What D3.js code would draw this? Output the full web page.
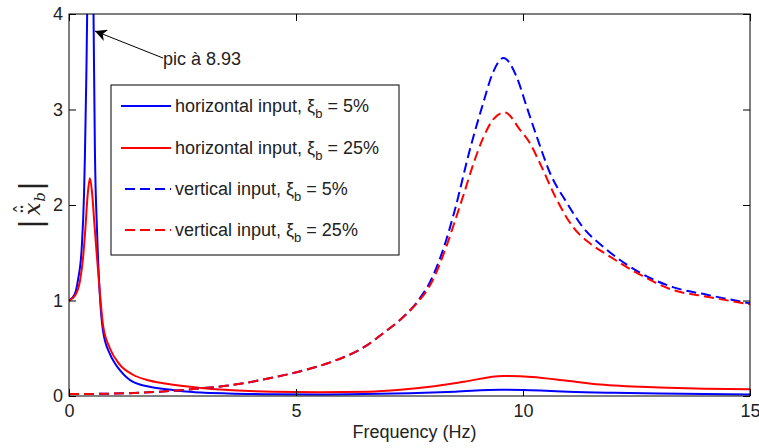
<!DOCTYPE html>
<html><head><meta charset="utf-8">
<script src="https://cdn.jsdelivr.net/npm/d3@7"></script>
<style>
body{margin:0;background:#fff;}
text{font-family:"Liberation Sans",Arial,Helvetica,sans-serif;}
</style></head>
<body><svg id="chart" width="759" height="448"></svg>
<script>
// ---- data ----
const xTicks = [0, 5, 10, 15];
const yTicks = [0, 1, 2, 3, 4];

const hBlueF = [0,0.13,0.2,0.28,0.33,0.35,0.38,0.40,0.43,0.46,0.49,0.52,0.54,0.57,0.62,0.68,0.75,0.9,1.0,1.12,1.28,1.4,1.56,1.8,2.15,2.5,2.9,3.5,4.5,5.5,6.5,7.5,8.5,9.5,10,10.5,11,12,13,14,15];
const hBlueV = [1.0,1.07,1.22,1.55,2.1,2.5,3.3,4.0,6.5,8.93,7.0,4.8,4.0,2.6,1.7,1.05,0.68,0.44,0.35,0.27,0.19,0.15,0.12,0.095,0.07,0.05,0.037,0.027,0.018,0.015,0.02,0.03,0.045,0.065,0.063,0.055,0.045,0.033,0.025,0.02,0.015];

const hRedF = [0,0.13,0.24,0.31,0.36,0.41,0.46,0.51,0.56,0.6,0.68,0.75,0.9,1.1,1.4,1.7,2.15,2.9,3.6,4.5,5.5,6.6,7.3,8.0,8.7,9.56,10.2,10.97,11.7,13,14,15];
const hRedV = [1.0,1.05,1.2,1.45,1.75,2.1,2.28,2.12,1.8,1.55,1.08,0.74,0.5,0.34,0.225,0.17,0.128,0.085,0.06,0.045,0.04,0.045,0.065,0.1,0.15,0.21,0.2,0.16,0.12,0.09,0.077,0.07];

const vBlueF = [0,1,2,2.9,3.6,4.36,5.1,5.8,6.56,6.9,7.3,7.66,8.0,8.3,8.5,8.83,9.1,9.35,9.57,9.86,10.08,10.3,10.6,10.97,11.3,11.85,12.58,13.3,14.05,15];
const vBlueV = [0.02,0.025,0.045,0.08,0.115,0.18,0.26,0.36,0.53,0.65,0.8,0.98,1.24,1.62,1.95,2.58,3.03,3.4,3.54,3.34,3.03,2.72,2.33,2.02,1.78,1.53,1.29,1.14,1.06,0.97];

const vRedF = [0,1,2,2.9,3.6,4.36,5.1,5.8,6.56,6.9,7.3,7.66,8.0,8.3,8.5,8.7,8.9,9.12,9.35,9.6,9.93,10.15,10.37,10.75,11.1,11.47,11.85,12.58,13.3,14.05,15];
const vRedV = [0.02,0.025,0.045,0.08,0.115,0.18,0.26,0.36,0.53,0.65,0.8,0.97,1.2,1.55,1.83,2.12,2.42,2.7,2.9,2.97,2.79,2.65,2.44,2.05,1.77,1.6,1.48,1.27,1.11,1.04,0.96];

const seriesNames = ["horizontal input, ξ", "horizontal input, ξ", "vertical input, ξ", "vertical input, ξ"];
const seriesPct = ["5%", "25%", "5%", "25%"];
const seriesColors = ["#0000ff", "#ff0000", "#0000ff", "#ff0000"];
const seriesDashed = [false, false, true, true];
const annotationText = "pic à 8.93";
const xLabel = "Frequency (Hz)";

// ---- layout ----
const svg = d3.select("#chart");
const L = 69, R = 750, T = 14, B = 396;
const FS = 18;
const x = d3.scaleLinear().domain([0, 15]).range([L, R]);
const y = d3.scaleLinear().domain([0, 4]).range([B, T]);

const defs = svg.append("defs");
defs.append("clipPath").attr("id", "clip")
  .append("rect").attr("x", L).attr("y", T).attr("width", R - L).attr("height", B - T);

const series = [
  {f: hBlueF, v: hBlueV}, {f: hRedF, v: hRedV},
  {f: vBlueF, v: vBlueV}, {f: vRedF, v: vRedV}
];

const line = d3.line().x(d => x(d[0])).y(d => y(d[1])).curve(d3.curveMonotoneX);
const plot = svg.append("g").attr("clip-path", "url(#clip)");
series.forEach((s, i) => {
  plot.append("path")
    .attr("d", line(s.f.map((f, k) => [f, s.v[k]])))
    .attr("fill", "none")
    .attr("stroke", seriesColors[i])
    .attr("stroke-width", 2)
    .attr("stroke-dasharray", seriesDashed[i] ? "10,5" : null);
});

// ---- axes (MATLAB box style, ticks inside) ----
const tickStyle = g => {
  g.select(".domain").remove();
  g.selectAll("line").attr("stroke", "#000");
  g.selectAll("text").attr("font-size", FS).attr("fill", "#222")
    .style("font-family", "'Liberation Sans',Arial,sans-serif");
};
svg.append("g").attr("transform", `translate(0,${B})`)
  .call(d3.axisBottom(x).tickValues(xTicks).tickSize(-7).tickPadding(8).tickFormat(d3.format("d")))
  .call(tickStyle);
svg.append("g").attr("transform", `translate(0,${T})`)
  .call(d3.axisTop(x).tickValues(xTicks).tickSize(-7).tickFormat(""))
  .call(tickStyle);
svg.append("g").attr("transform", `translate(${L},0)`)
  .call(d3.axisLeft(y).tickValues(yTicks).tickSize(-7).tickPadding(6).tickFormat(d3.format("d")))
  .call(tickStyle);
svg.append("g").attr("transform", `translate(${R},0)`)
  .call(d3.axisRight(y).tickValues(yTicks).tickSize(-7).tickFormat(""))
  .call(tickStyle);
svg.append("rect").attr("x", L).attr("y", T).attr("width", R - L).attr("height", B - T)
  .attr("fill", "none").attr("stroke", "#000").attr("stroke-width", 1);

// x label
svg.append("text").attr("x", (L + R) / 2 + 5).attr("y", 438).attr("text-anchor", "middle")
  .attr("font-size", FS).attr("fill", "#222").text(xLabel);

// y label |x̂̈_b| (rotated)
const serif = "'DejaVu Serif',serif";
const yl = svg.append("g").attr("transform", "translate(33,205) rotate(-90)").attr("fill", "#222");
yl.append("text").attr("x", -19).attr("y", 7.5).attr("text-anchor", "middle")
  .attr("font-size", 31).text("|");
yl.append("text").attr("x", 19).attr("y", 7.5).attr("text-anchor", "middle")
  .attr("font-size", 31).text("|");
yl.append("text").attr("x", -4).attr("y", 7).attr("text-anchor", "middle")
  .attr("font-size", 23).attr("font-style", "italic").style("font-family", serif).text("x");
yl.append("text").attr("x", -4).attr("y", 5).attr("text-anchor", "middle")
  .attr("font-size", 22).style("font-family", serif).text("\u00A8");
yl.append("text").attr("x", -4).attr("y", -3).attr("text-anchor", "middle")
  .attr("font-size", 20).style("font-family", serif).text("\u02C6");
yl.append("text").attr("x", 8).attr("y", 12).attr("text-anchor", "middle")
  .attr("font-size", 15).attr("font-style", "italic").style("font-family", serif).text("b");

// legend
const lg = svg.append("g");
lg.append("rect").attr("x", 111).attr("y", 85).attr("width", 288).attr("height", 170)
  .attr("fill", "#fff").attr("stroke", "#000").attr("stroke-width", 1);
const rowY = [106, 148, 189, 230];
seriesNames.forEach((name, i) => {
  lg.append("line").attr("x1", seriesDashed[i] ? 125 : 121).attr("x2", 171)
    .attr("y1", rowY[i]).attr("y2", rowY[i])
    .attr("stroke", seriesColors[i]).attr("stroke-width", 2)
    .attr("stroke-dasharray", seriesDashed[i] ? "10,5" : null);
  const t = lg.append("text").attr("x", 175).attr("y", rowY[i] + 6)
    .attr("font-size", FS).attr("fill", "#222");
  t.append("tspan").text(name);
  t.append("tspan").attr("dy", 6).attr("font-size", 13).text("b");
  t.append("tspan").attr("dy", -6).text(" = " + seriesPct[i]);
});

// annotation arrow
defs.append("marker").attr("id", "arrow").attr("viewBox", "0 0 10 10")
  .attr("refX", 10).attr("refY", 5).attr("markerWidth", 12).attr("markerHeight", 12)
  .attr("markerUnits", "userSpaceOnUse").attr("orient", "auto")
  .append("path").attr("d", "M0,0 L10,5 L0,10 L3,5 Z").attr("fill", "#000");
svg.append("line").attr("x1", x(2.07)).attr("y1", 58).attr("x2", x(0.57)).attr("y2", 31)
  .attr("stroke", "#000").attr("stroke-width", 1).attr("marker-end", "url(#arrow)");
svg.append("text").attr("x", x(2.07)).attr("y", 65).attr("font-size", FS).attr("fill", "#222")
  .text(annotationText);
</script></body></html>
